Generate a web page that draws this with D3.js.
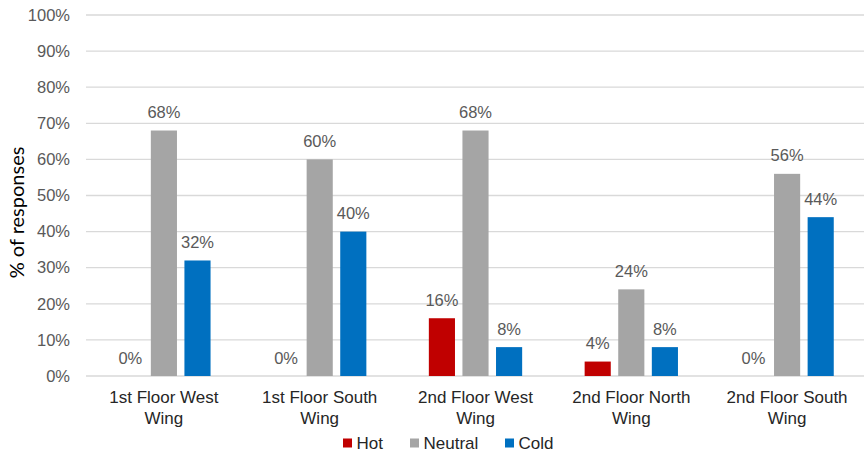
<!DOCTYPE html>
<html>
<head>
<meta charset="utf-8">
<script src="https://cdn.jsdelivr.net/npm/d3@7"></script>
<style>
  html, body { margin: 0; padding: 0; background: #fff; }
  svg { display: block; font-family: "Liberation Sans", Arial, sans-serif; }
</style>
</head>
<body>
<svg id="chart" width="864" height="452"></svg>
<script>
// Thermal comfort responses by location
const categories = [
  ["1st Floor West", "Wing"],
  ["1st Floor South", "Wing"],
  ["2nd Floor West", "Wing"],
  ["2nd Floor North", "Wing"],
  ["2nd Floor South", "Wing"]
];
const seriesNames = ["Hot", "Neutral", "Cold"];
const hotValues = [0, 0, 16, 4, 0];
const neutralValues = [68, 60, 68, 24, 56];
const coldValues = [32, 40, 8, 8, 44];
const yTicks = [0, 10, 20, 30, 40, 50, 60, 70, 80, 90, 100];
const seriesColors = ["#C00000", "#A5A5A5", "#0070C0"];

const seriesValues = [hotValues, neutralValues, coldValues];
const catKeys = categories.map(c => c.join(" "));

const svg = d3.select("#chart");
const plot = { left: 86, right: 865, top: 15, bottom: 376 };

const x0 = d3.scaleBand().domain(catKeys).range([plot.left, plot.right]).paddingInner(0).paddingOuter(0);
const x1 = d3.scaleBand().domain(seriesNames).range([0, x0.bandwidth()])
  .paddingInner(0.222).paddingOuter(0.93);
const y = d3.scaleLinear().domain([0, 100]).range([plot.bottom, plot.top]);
const color = d3.scaleOrdinal().domain(seriesNames).range(seriesColors);

// gridlines
svg.append("g")
  .selectAll("line")
  .data(yTicks)
  .join("line")
  .attr("x1", plot.left).attr("x2", plot.right)
  .attr("y1", d => y(d)).attr("y2", d => y(d))
  .attr("stroke", "#D9D9D9").attr("stroke-width", 1.3);

// y axis tick labels
const yAxis = d3.axisLeft(y).tickValues(yTicks).tickFormat(d => d + "%").tickSize(0).tickPadding(0);
const yg = svg.append("g").attr("transform", `translate(70,0)`).call(yAxis);
yg.select(".domain").remove();
yg.selectAll("text")
  .attr("fill", "#595959")
  .style("font-size", "16.5px")
  .style("font-family", "'Liberation Sans', Arial, sans-serif");

// y axis title
svg.append("text")
  .attr("transform", `translate(24,${(plot.top + plot.bottom) / 2 + 17}) rotate(-90)`)
  .attr("text-anchor", "middle")
  .attr("fill", "#000")
  .style("font-family", "Lato, 'Open Sans', sans-serif")
  .style("font-size", "20px")
  .text("% of responses");

// bars
const rows = catKeys.map((k, i) => ({ key: k, values: seriesNames.map((s, j) => ({ series: s, value: seriesValues[j][i] })) }));
const groups = svg.append("g").selectAll("g")
  .data(rows).join("g")
  .attr("transform", d => `translate(${x0(d.key)},0)`);

groups.selectAll("rect")
  .data(d => d.values)
  .join("rect")
  .attr("x", d => x1(d.series))
  .attr("width", x1.bandwidth())
  .attr("y", d => y(d.value))
  .attr("height", d => y(0) - y(d.value))
  .attr("fill", d => color(d.series));

// value labels
groups.selectAll("text.val")
  .data(d => d.values)
  .join("text")
  .attr("class", "val")
  .attr("x", d => x1(d.series) + x1.bandwidth() / 2)
  .attr("y", d => y(d.value) - 12.5)
  .attr("text-anchor", "middle")
  .attr("fill", "#595959")
  .style("font-size", "16.5px")
  .text(d => d.value + "%");

// category labels
const cl = svg.append("g").selectAll("text")
  .data(categories).join("text")
  .attr("x", (d, i) => x0(catKeys[i]) + x0.bandwidth() / 2)
  .attr("y", 403)
  .attr("text-anchor", "middle")
  .attr("fill", "#262626")
  .style("font-size", "17px");
cl.selectAll("tspan")
  .data(d => d).join("tspan")
  .attr("x", function () { return d3.select(this.parentNode).attr("x"); })
  .attr("dy", (d, i) => i === 0 ? 0 : 21)
  .text(d => d);

// legend
const legendX = [343, 410, 505];
const lg = svg.append("g").selectAll("g")
  .data(seriesNames).join("g")
  .attr("transform", (d, i) => `translate(${legendX[i]},0)`);
lg.append("rect").attr("x", 0).attr("y", 438.5).attr("width", 9).attr("height", 9).attr("fill", d => color(d));
lg.append("text").attr("x", 13.5).attr("y", 449).attr("fill", "#262626").style("font-size", "17px").text(d => d);
</script>
</body>
</html>
